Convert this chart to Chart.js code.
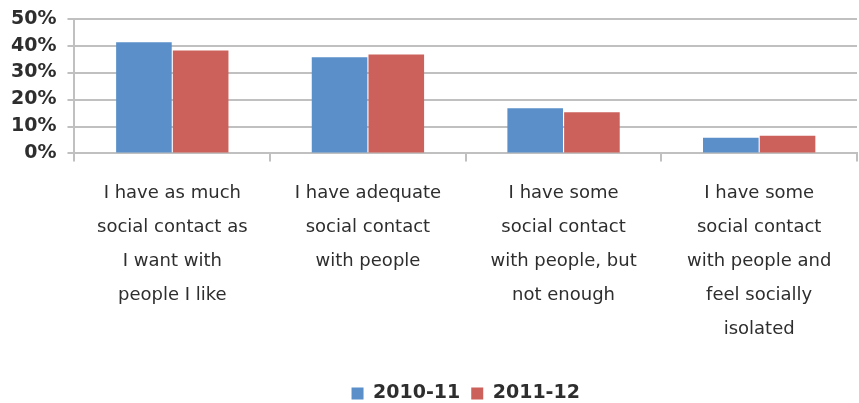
<!DOCTYPE html>
<html>
<head>
<meta charset="utf-8">
<script src="https://cdn.jsdelivr.net/npm/chart.js@4/dist/chart.umd.min.js"></script>
<style>
  html, body { margin: 0; padding: 0; background: #ffffff; }
  #wrap { width: 859px; height: 403px; }
</style>
</head>
<body>
<div id="wrap"><canvas id="grafico"></canvas></div>
<script>
// categorias (una linea por elemento)
const categorias = [
  ["I have as much", "social contact as", "I want with", "people I like"],
  ["I have adequate", "social contact", "with people"],
  ["I have some", "social contact", "with people, but", "not enough"],
  ["I have some", "social contact", "with people and", "feel socially", "isolated"]
];
const serie2010 = [41.2, 35.7, 16.8, 5.8];
const serie2011 = [38.2, 36.7, 15.3, 6.6];
const ticksY = [0, 10, 20, 30, 40, 50];

const colorTexto = "#2e2e2e";
const colorGrid = "#c0c0c0";

const ctx = document.getElementById("grafico").getContext("2d");

new Chart(ctx, {
  type: "bar",
  data: {
    labels: categorias,
    datasets: [
      {
        label: "2010-11",
        data: serie2010,
        backgroundColor: "#5a8fca",
        categoryPercentage: 0.58,
        barPercentage: 0.98,
      },
      {
        label: "2011-12",
        data: serie2011,
        backgroundColor: "#cc615b",
        categoryPercentage: 0.58,
        barPercentage: 0.98,
      }
    ]
  },
  options: {
    responsive: true,
    maintainAspectRatio: false,
    animation: false,
    layout: {
      padding: { top: 0, right: 2, left: 0, bottom: -10 }
    },
    plugins: {
      tooltip: { enabled: false },
      legend: {
        position: "bottom",
        fullSize: false,
        labels: {
          color: colorTexto,
          boxWidth: 12,
          boxHeight: 12,
          padding: 11,
          font: { family: "DejaVu Sans", size: 19, weight: "bold" }
        }
      }
    },
    scales: {
      x: {
        afterFit: (eje) => {
          eje.height += 13; // hueco entre etiquetas y leyenda
        },
        grid: {
          offset: true,
          drawOnChartArea: false,
          drawTicks: true,
          tickLength: 8,
          color: colorGrid,
          lineWidth: 2
        },
        border: { color: colorGrid, width: 2 },
        ticks: {
          color: colorTexto,
          padding: 15,
          maxRotation: 0,
          autoSkip: false,
          font: { family: "DejaVu Sans", size: 18, lineHeight: "34px" }
        }
      },
      y: {
        min: 0,
        max: 50,
        afterBuildTicks: (eje) => {
          eje.ticks = ticksY.map(v => ({ value: v }));
        },
        grid: {
          color: colorGrid,
          lineWidth: 2,
          tickLength: 7
        },
        border: { color: colorGrid, width: 2 },
        ticks: {
          color: colorTexto,
          padding: 11,
          autoSkip: false,
          callback: (v) => v + "%",
          font: { family: "DejaVu Sans", size: 19, weight: "bold", lineHeight: 0.8 }
        }
      }
    }
  }
});
</script>
</body>
</html>
